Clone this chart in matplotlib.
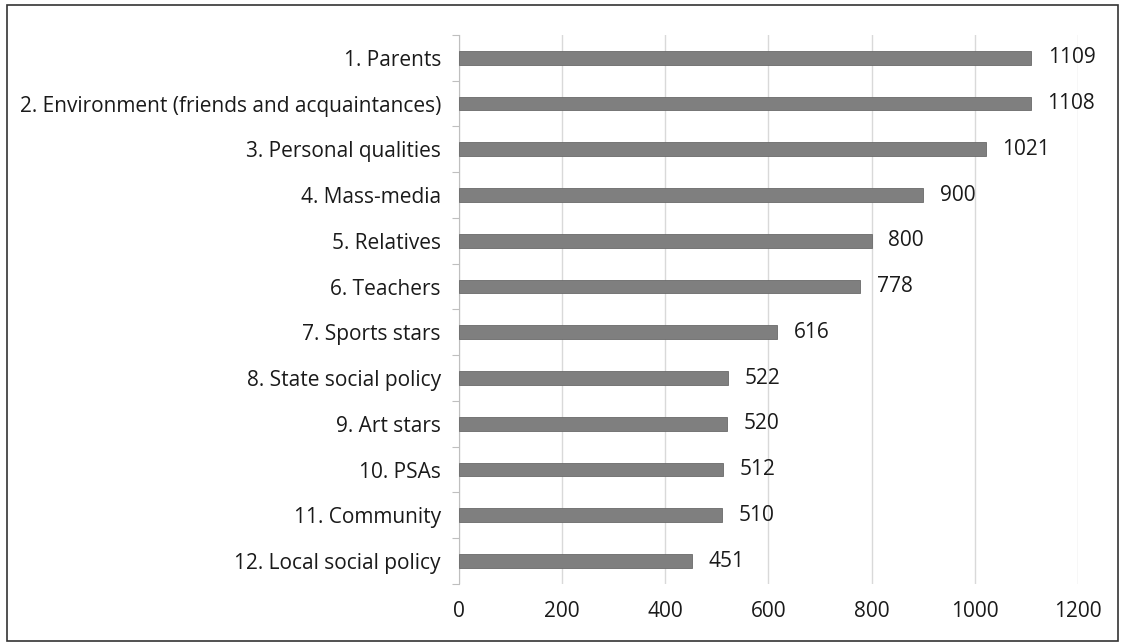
import matplotlib
matplotlib.use("Agg")
import matplotlib.pyplot as plt
import numpy as np
from matplotlib.patches import Rectangle

categories = ["1. Parents", "2. Environment (friends and acquaintances)", "3. Personal qualities",
              "4. Mass-media", "5. Relatives", "6. Teachers", "7. Sports stars",
              "8. State social policy", "9. Art stars", "10. PSAs", "11. Community",
              "12. Local social policy"]
values = [1109, 1108, 1021, 900, 800, 778, 616, 522, 520, 512, 510, 451]
xticks = [0, 200, 400, 600, 800, 1000, 1200]

plt.rcParams['font.family'] = ['Open Sans', 'DejaVu Sans']
FS = 15

fig = plt.figure(figsize=(11.23, 6.43), dpi=100)
ax = fig.add_axes([0.4087, 0.0918, 0.5512, 0.8538])

y = np.arange(len(categories))
ax.barh(y, values, height=0.3, color="#7f7f7f", edgecolor="#6a6a6a", linewidth=0.6, zorder=3)
for yi, v in zip(y, values):
    ax.annotate(str(v), (v, yi), xytext=(12, 0), textcoords="offset points",
                va="center", ha="left", fontsize=FS, color="#1a1a1a")

ax.set_ylim(len(categories) - 0.5, -0.5)
ax.set_xlim(0, 1200)
ax.set_yticks(y)
ax.set_yticklabels(categories, fontsize=FS, color="#1a1a1a")
ax.set_yticks(np.arange(-0.5, len(categories)), minor=True)
ax.tick_params(axis="y", which="major", length=0, pad=13)
ax.tick_params(axis="y", which="minor", length=5, color="#bfbfbf", width=0.8)
ax.set_xticks(xticks)
ax.set_xticklabels([str(t) for t in xticks], fontsize=FS, color="#1a1a1a")
ax.tick_params(axis="x", length=0, pad=12)
ax.xaxis.grid(True, color="#d9d9d9", linewidth=1.0, zorder=0)
for s in ["top", "right", "bottom"]:
    ax.spines[s].set_visible(False)
ax.spines["left"].set_color("#bfbfbf")
ax.spines["left"].set_linewidth(0.8)

fig.patches.append(Rectangle((7 / 1123, 2 / 643), 1111 / 1123, 636 / 643, transform=fig.transFigure,
                             fill=False, edgecolor="#333333", linewidth=1.2))

fig.savefig("out.png", dpi=100)
